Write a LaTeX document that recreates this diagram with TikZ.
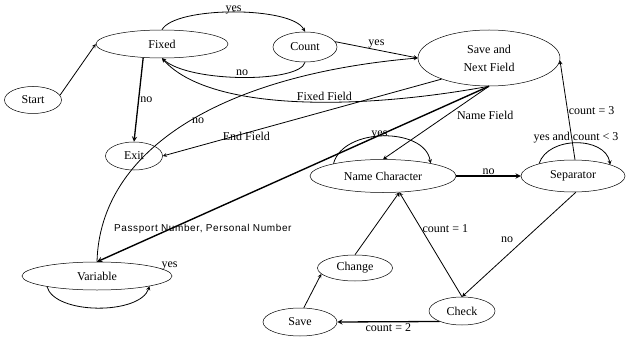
\documentclass[tikz,border=0pt]{standalone}
\usepackage{fontspec}
\setmainfont{Liberation Serif}
\newfontfamily\passfont[LetterSpace=6]{Liberation Sans}
\usetikzlibrary{shapes,arrows,positioning}

\begin{document}
\begin{tikzpicture}[x=1pt, y=-1pt, >=stealth,
    st/.style={ellipse, draw, line width=0.5pt, inner sep=0pt, font=\fontsize{12}{14}\selectfont},
    arr/.style={->, line width=0.8pt},
    lbl/.style={inner sep=1pt, font=\fontsize{12}{14}\selectfont}]
    \useasboundingbox (0,0) rectangle (628,339);

    % Estados
    \node[st, minimum width=57pt, minimum height=27pt] (start) at (33,100) {Start};
    \node[st, minimum width=132pt, minimum height=28pt] (fixed) at (162,44) {Fixed};
    \node[st, minimum width=64pt, minimum height=30pt] (count) at (305,47) {Count};
    \node[st, minimum width=142pt, minimum height=56pt, align=center] (savenext) at (489,58) {Save and\\[4pt]Next Field};
    \node[st, minimum width=57pt, minimum height=28pt] (exit) at (134,156) {Exit};
    \node[st, minimum width=146pt, minimum height=33pt] (namechar) at (383,176) {Name Character};
    \node[st, minimum width=104pt, minimum height=32pt] (sep) at (573,176) {Separator};
    \node[st, minimum width=150pt, minimum height=28pt] (variable) at (97,276) {Variable};
    \node[st, minimum width=75pt, minimum height=26pt] (change) at (355,268) {Change};
    \node[st, minimum width=74pt, minimum height=28pt] (save) at (300,322) {Save};
    \node[st, minimum width=66pt, minimum height=28pt] (check) at (462,311) {Check};

    % Campo fixo
    \draw[arr] (start.10) -- (fixed.west);
    \draw[arr] (fixed.north) .. controls (175,6) and (292,6) .. node[lbl, yshift=2pt, inner sep=0pt] {yes} (count.north);
    \draw[arr] (count.south) .. controls (300,83) and (190,83) .. node[lbl, above] {no} (fixed.south);
    \draw[arr] (count.10) -- node[lbl, above] {yes} (savenext.west);
    \draw[arr, line width=1.3pt] (fixed.216) -- node[lbl, right] {no} (exit.north);
    \draw[arr] (savenext.south) .. controls (360,110) and (210,112) .. node[lbl, pos=0.42, above] {Fixed Field} (fixed.south);
    \draw[arr] (savenext.204) -- node[lbl, pos=0.7, yshift=-3pt] {End Field} (exit.east);

    % Campo variavel
    \draw[arr] (variable.north) .. controls (100,150) and (220,75) .. node[lbl, pos=0.54, below] {no} (savenext.west);
    \draw[arr] (variable.192) .. controls (55,315) and (140,315) .. node[lbl, at end, xshift=20pt, yshift=20pt] {yes} (variable.-11);
    \draw[->, line width=1.4pt] (savenext.south) -- node[pos=0.73, below=8pt, inner sep=1pt, font=\passfont\fontsize{10}{12}\selectfont] {Passport Number, Personal Number} (variable.north);

    % Campo de nome
    \draw[arr] (savenext.south) -- node[lbl, pos=0.4, right=9pt] {Name Field} (namechar.north);
    \draw[arr] (namechar.166) .. controls (343,127) and (425,127) .. node[lbl, pos=0.47, yshift=1pt] {yes} (namechar.15);
    \draw[arr, line width=1.3pt] (namechar.east) -- node[lbl, above] {no} (sep.west);
    \draw[arr] (sep.160) .. controls (548,136) and (605,136) .. node[lbl, above, inner sep=0pt] {yes and count < 3} (sep.17);
    \draw[arr] (sep.83) -- node[lbl, right] {count = 3} (savenext.-2);
    \draw[arr] (sep.-80) -- node[lbl, pos=0.45, left=10pt] {no} (check.north);
    \draw[arr] (check.north) -- node[lbl, pos=0.65, right] {count = 1} (namechar.-45);
    \draw[arr, line width=1.3pt] (check.205) -- node[lbl, below] {count = 2} (save.east);
    \draw[arr] (save.75) -- (change.190);
    \draw[arr] (change.north) -- (namechar.-45);
\end{tikzpicture}
\end{document}
